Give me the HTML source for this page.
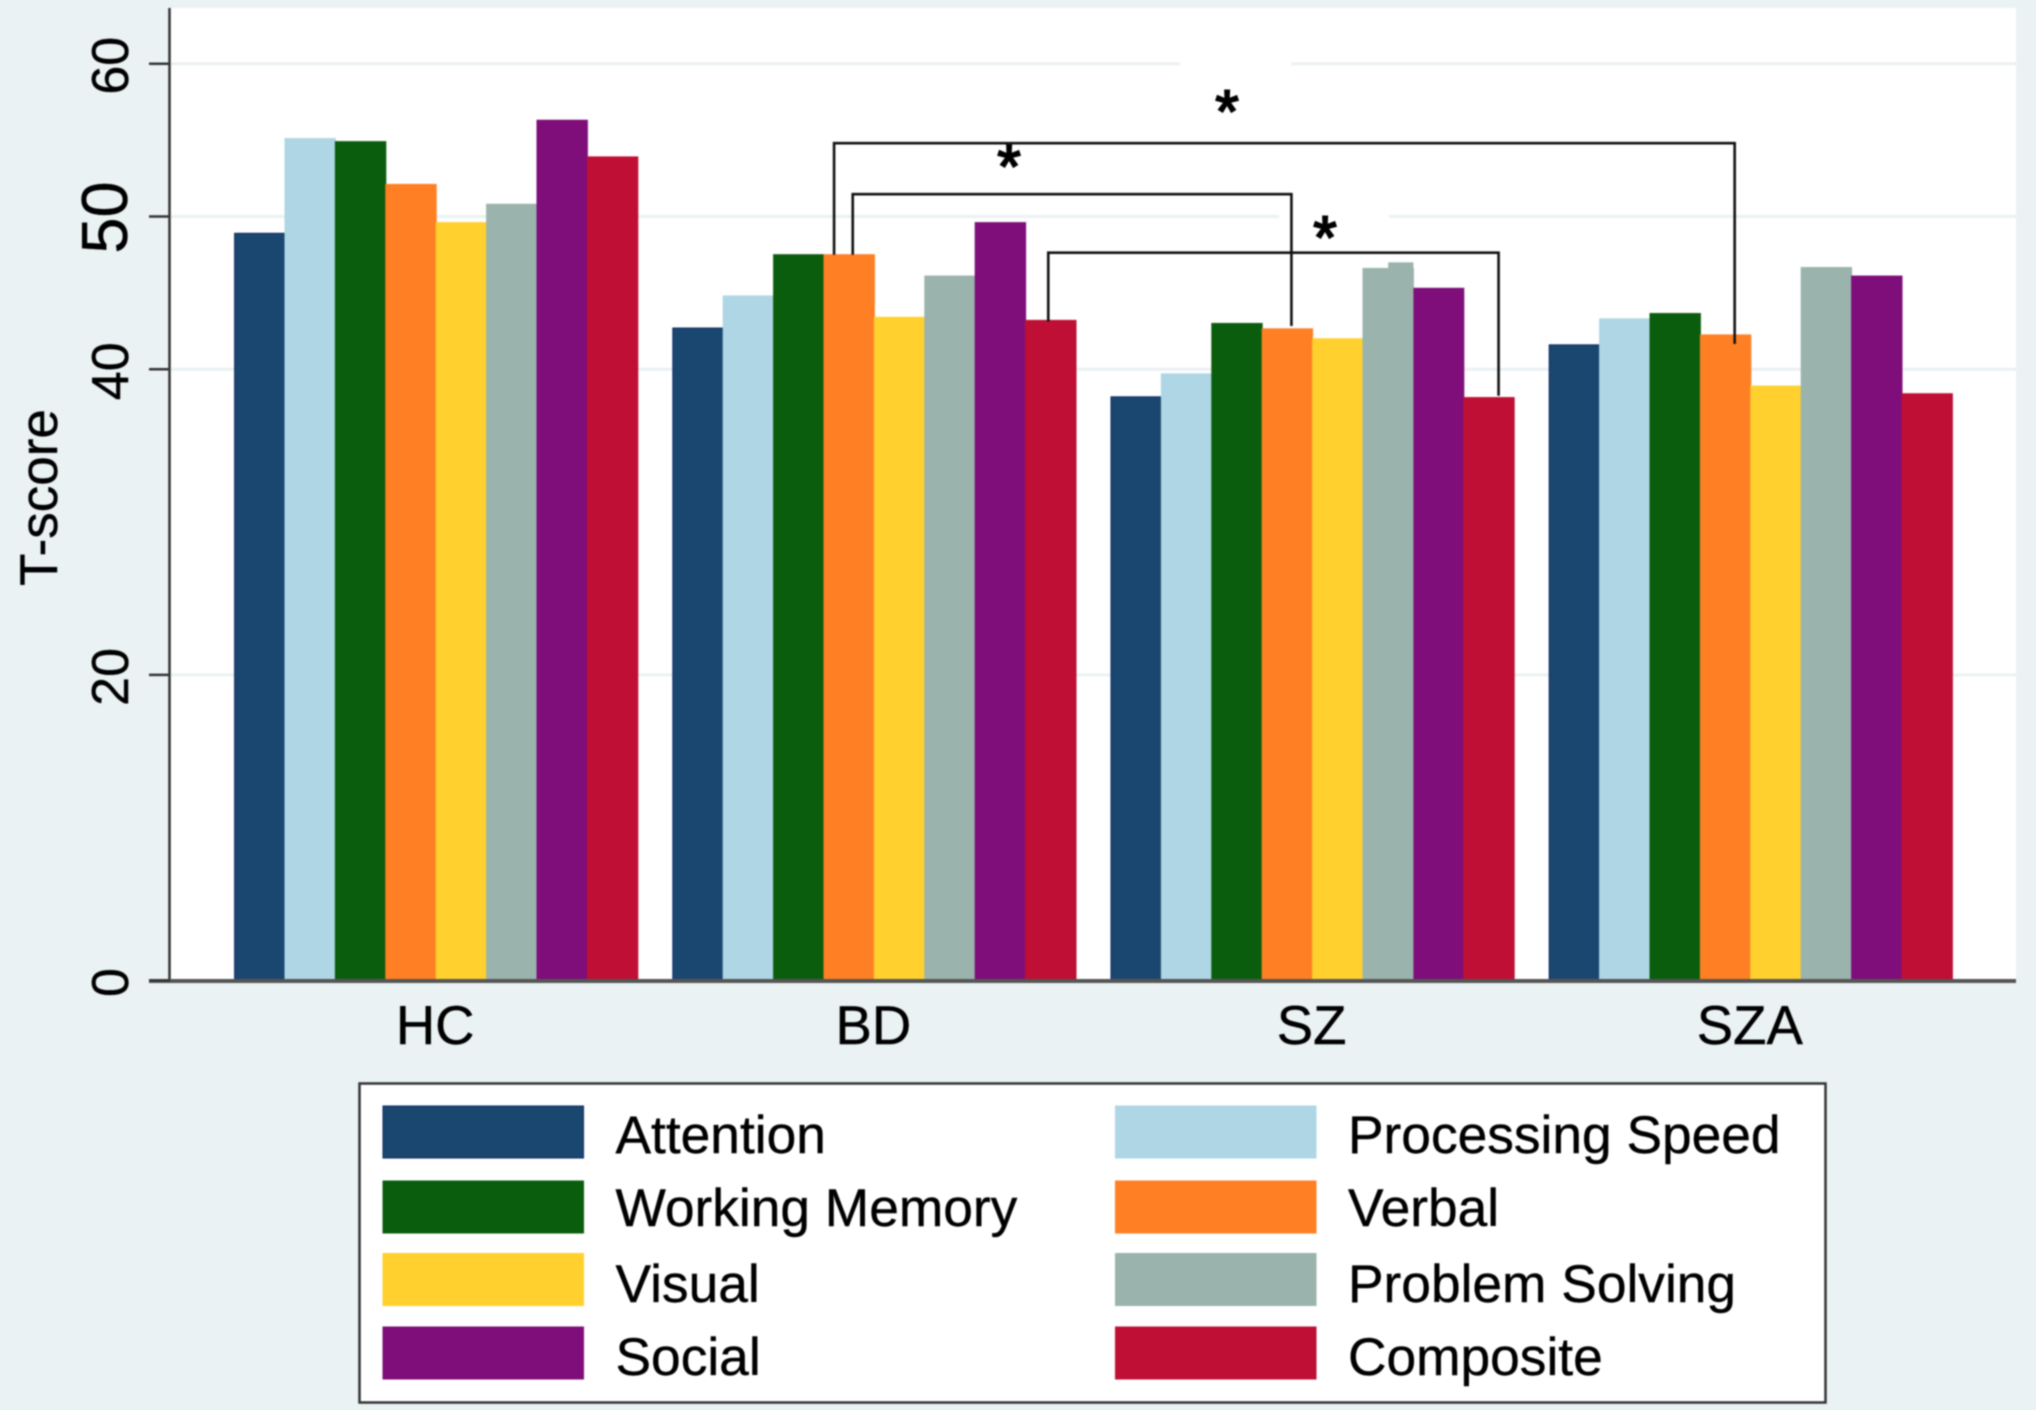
<!DOCTYPE html>
<html lang="en">
<head>
<meta charset="utf-8">
<title>T-score by group and cognitive domain</title>
<style>
html,body{margin:0;padding:0;background:#eaf2f3;}
svg{display:block;filter:blur(0.8px);}
text{font-family:"Liberation Sans",Arial,sans-serif;fill:#000;stroke:#000;stroke-width:0.4px;}
</style>
</head>
<body>
<svg id="chart" xmlns="http://www.w3.org/2000/svg" width="2036" height="1410" viewBox="0 0 2036 1410">
  <rect x="0" y="0" width="2036" height="1410" fill="#eaf2f3"/>
  <rect x="170" y="8" width="1846" height="972" fill="#ffffff"/>
  <g id="grid"></g>
  <rect x="1180" y="58" width="111" height="9" fill="#ffffff"/>
  <rect x="1279" y="210" width="110" height="10" fill="#ffffff"/>
  <g id="bars"></g>
  <g id="axes"></g>
  <text transform="translate(57,497.5) rotate(-90)" text-anchor="middle" font-size="53">T-score</text>
  <g id="brackets"></g>
  <line x1="1009" y1="143" x2="1009" y2="152" stroke="#222" stroke-width="2"/>
  <text x="1227" y="132" text-anchor="middle" font-size="60" style="stroke-width:2px">*</text>
  <text x="1009" y="187" text-anchor="middle" font-size="60" style="stroke-width:2px">*</text>
  <text x="1325" y="258" text-anchor="middle" font-size="60" style="stroke-width:2px">*</text>
  <g id="legend">
    <rect x="359.500" y="1083.500" width="1466" height="319" fill="#ffffff" stroke="#333333" stroke-width="2.500"/>
  </g>
</svg>
<script>
// ---- Chart data ----
const categories = ["HC", "BD", "SZ", "SZA"];
const seriesNames = ["Attention", "Processing Speed", "Working Memory", "Verbal", "Visual", "Problem Solving", "Social", "Composite"];
const attention = [48.9, 42.7, 38.2, 41.6];
const processingSpeed = [55.1, 44.8, 39.7, 43.3];
const workingMemory = [54.9, 47.5, 43.0, 43.65];
const verbal = [52.1, 47.5, 42.65, 42.25];
const visual = [49.6, 43.4, 42.0, 38.9];
const problemSolving = [50.8, 46.1, 46.6, 46.66];
const social = [56.3, 49.6, 45.3, 46.1];
const composite = [53.9, 43.2, 38.15, 38.4];
const seriesValues = [attention, processingSpeed, workingMemory, verbal, visual, problemSolving, social, composite];
const seriesColors = ["#1a476f", "#aed6e5", "#0a5d0c", "#ff7f24", "#ffd02e", "#9ab3ad", "#7f0e7a", "#bf0f35"];
const seriesEdges = ["#0c2a66", "#aed6e5", "#0a5d0c", "#ff7f24", "#ffd02e", "#9ab3ad", "#7f0e7a", "#bf0f35"];
const gridTicks = [20, 40, 50, 60];
const yTicks = [0, 20, 40, 50, 60];
const problemSolvingSzOverlap = 47.0;   // the small raised step on the SZ problem-solving bar
// Brackets in T-score units: crossbar level and each leg's lower end
const bracketLevels = [54.8, 51.46, 47.63];
const bracketLeftEnds = [47.5, 47.5, 43.13];
const bracketRightEnds = [41.66, 42.83, 38.27];

// ---- Axis functions ----
const zeroY = 980.5, unitY = 15.28;
const groupStart = 234.6, groupStep = 438.2, barW = 50.4;
function yScale(v) { return zeroY - v * unitY; }
function xBar(groupIndex, seriesIndex) { return groupStart + groupIndex * groupStep + seriesIndex * barW; }
function xGroupCenter(groupIndex) { return xBar(groupIndex, 4); }

const NS = "http://www.w3.org/2000/svg";
function make(tag, parent, attrs) {
  const el = document.createElementNS(NS, tag);
  for (const k in attrs) el.setAttribute(k, attrs[k]);
  parent.appendChild(el);
  return el;
}
const gridG = document.getElementById("grid");
const barsG = document.getElementById("bars");
const axesG = document.getElementById("axes");
const brG = document.getElementById("brackets");
const legendG = document.getElementById("legend");

// gridlines
gridTicks.forEach(function (t) {
  const el = make("line", gridG, { x1: 171, x2: 2016, y1: yScale(t), y2: yScale(t), stroke: "#eaf2f3", "stroke-width": 3 });
  
  
});

// bars
seriesValues.forEach(function (vals, s) {
  vals.forEach(function (v, g) {
    const y = yScale(v);
    const el = make("rect", barsG, { x: xBar(g, s), y: y, width: barW, height: zeroY - y, fill: seriesColors[s], stroke: seriesEdges[s], "stroke-width": 1 });
    
    
  });
});
(function () {
  const y = yScale(problemSolvingSzOverlap);
  const el = make("rect", barsG, { x: xBar(2, 5) + barW / 2, y: y, width: barW / 2, height: zeroY - y, fill: seriesColors[5] });
  
  
})();

// axes
const yAxis = make("line", axesG, { x1: 169.5, x2: 169.5, y1: 8, y2: 981, stroke: "#333333", "stroke-width": 2.5 });


const xAxis = make("line", axesG, { x1: 149, x2: 2016, y1: 981, y2: 981, stroke: "#555555", "stroke-width": 4 });


yTicks.forEach(function (t) {
  const big = t === 50;
  const tick = make("line", axesG, { x1: 149, x2: 170, y1: yScale(t), y2: yScale(t), stroke: "#333333", "stroke-width": 2.5 });
  
  
  const lab = make("text", axesG, { transform: "translate(" + (big ? 127 : 128) + "," + (yScale(t) + (big ? 1 : 2)) + ") rotate(-90)", "text-anchor": "middle", "font-size": big ? 65 : 52 });
  lab.textContent = String(t);
  
  
});
categories.forEach(function (c, g) {
  const lab = make("text", axesG, { x: xGroupCenter(g) - 1, y: 1044, "text-anchor": "middle", "font-size": 54.5 });
  lab.textContent = c;
  
  
});

// significance brackets: each anchored on a bar (group, series) plus a fraction across that bar
function legX(g, s, frac) { return xBar(g, s) + barW * frac; }
const bracketXs = [
  [legX(1, 3, 0.2), legX(3, 3, 0.68)],
  [legX(1, 3, 0.57), legX(2, 3, 0.58)],
  [legX(1, 7, 0.45), legX(2, 7, 0.69)]
];
bracketLevels.forEach(function (lvl, i) {
  const d = "M" + bracketXs[i][0] + " " + yScale(bracketLeftEnds[i]) +
            "V" + yScale(lvl) + "H" + bracketXs[i][1] + "V" + yScale(bracketRightEnds[i]);
  const el = make("path", brG, { d: d, fill: "none", stroke: "#111111", "stroke-width": 2.6 });
  
  
});

// legend (two columns, filled row by row)
const legendSwatchX = [383, 1115.5];
const legendTextX = [615.5, 1348];
const legendSwatchY = [1106, 1181, 1253.5, 1327];
const legendBaseY = [1153, 1226, 1302, 1375];
seriesNames.forEach(function (name, i) {
  const col = i % 2, row = Math.floor(i / 2);
  const sw = make("rect", legendG, { x: legendSwatchX[col], y: legendSwatchY[row], width: 200.5, height: 52, fill: seriesColors[i], stroke: seriesEdges[i], "stroke-width": 1 });
  
  
  const tx = make("text", legendG, { x: legendTextX[col], y: legendBaseY[row], "font-size": 53.3 });
  tx.textContent = name;
  
  
});
</script>
</body>
</html>
